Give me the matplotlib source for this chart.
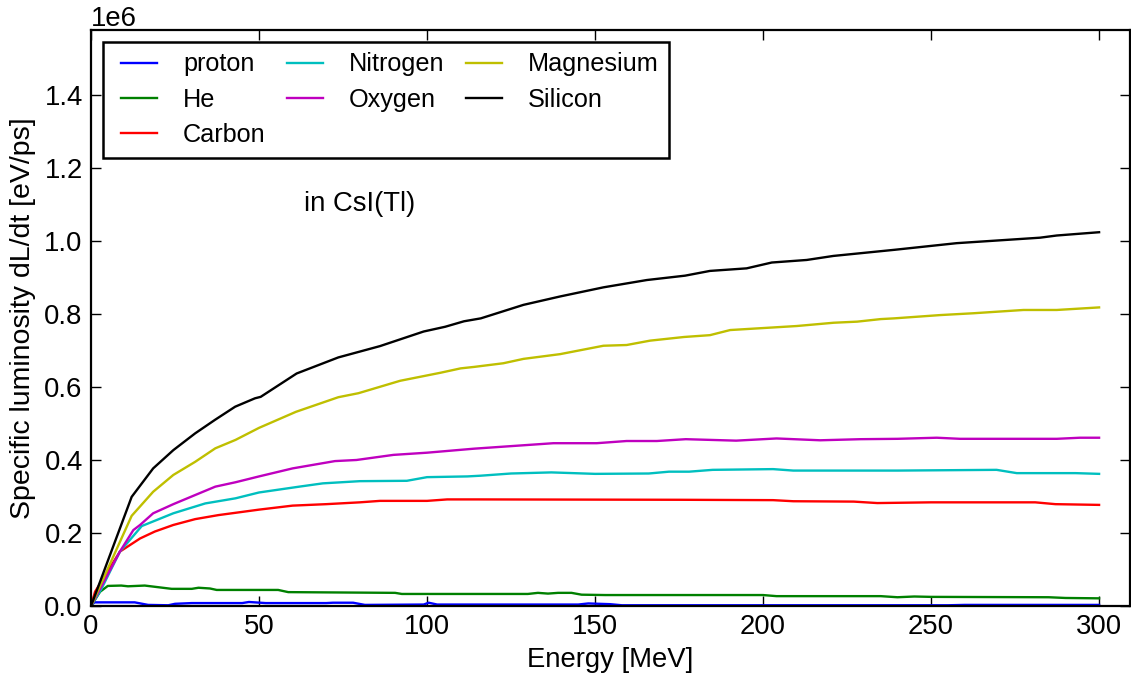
import numpy as np
import matplotlib
matplotlib.use("Agg")
import matplotlib.pyplot as plt
from matplotlib.lines import Line2D
from matplotlib.legend_handler import HandlerLine2D

plt.rcParams['font.family'] = ['Liberation Sans', 'DejaVu Sans']
plt.rcParams['mathtext.default'] = 'regular'

SCALE = 1e6  # values below are in units of 1e6 eV/ps

# Specific luminosity dL/dt in CsI(Tl) versus particle energy
proton_E = [0, 1, 13, 17, 23, 25, 30, 45, 47, 52, 70, 72, 78, 81.5, 99, 100.5,
            103, 145, 148, 154.5, 158, 255, 260, 300]
proton_L = [0, 0.010, 0.010, 0.003, 0.002, 0.006, 0.008, 0.008, 0.011, 0.008,
            0.008, 0.009, 0.009, 0.003, 0.004, 0.009, 0.004, 0.004, 0.007,
            0.005, 0.002, 0.002, 0.003, 0.003]

he_E = [0, 2.7, 5, 9, 11, 16, 24, 30, 32, 35.4, 37.4, 55.7, 58.7, 90.5, 92.5,
        130, 133, 136, 139, 143, 146, 153, 200, 204, 235, 240, 245, 250, 285,
        290, 300]
he_L = [0, 0.039, 0.055, 0.056, 0.054, 0.056, 0.047, 0.047, 0.050, 0.048,
        0.044, 0.044, 0.038, 0.036, 0.033, 0.033, 0.036, 0.034, 0.036, 0.036,
        0.031, 0.030, 0.030, 0.027, 0.027, 0.024, 0.026, 0.025, 0.024, 0.022,
        0.021]

carbon_E = [0, 1.2, 8.6, 14.6, 19, 24.5, 31, 37.9, 50, 60, 70, 80, 86, 100,
            106, 115, 175, 203, 209, 227, 234, 250, 281, 287, 300]
carbon_L = [0, 0.039, 0.149, 0.185, 0.204, 0.222, 0.238, 0.249, 0.264, 0.275,
            0.279, 0.284, 0.288, 0.288, 0.292, 0.292, 0.291, 0.290, 0.287,
            0.286, 0.282, 0.284, 0.284, 0.279, 0.277]

nitrogen_E = [0, 3, 8.6, 15.1, 24.5, 34, 43, 50, 62, 69, 80, 94, 100, 106, 112,
              116, 125, 137, 150, 166, 172, 178, 185, 203, 209, 240, 269.5,
              275.5, 293, 300]
nitrogen_L = [0, 0.045, 0.149, 0.219, 0.254, 0.281, 0.295, 0.311, 0.327, 0.336,
              0.342, 0.343, 0.353, 0.354, 0.355, 0.357, 0.363, 0.366, 0.362,
              0.363, 0.368, 0.368, 0.373, 0.375, 0.371, 0.371, 0.373, 0.364,
              0.364, 0.362]

oxygen_E = [0, 8.6, 12.6, 14.6, 18.5, 24.5, 31, 37, 43, 50, 60, 72.6, 79, 90,
            100, 114, 137.6, 150.5, 159.4, 168.4, 177, 192, 204, 217, 229, 240,
            251.7, 258.6, 287.4, 294.3, 300]
oxygen_L = [0, 0.149, 0.208, 0.222, 0.254, 0.279, 0.304, 0.327, 0.339, 0.355,
            0.377, 0.397, 0.400, 0.414, 0.420, 0.431, 0.446, 0.446, 0.452,
            0.452, 0.457, 0.453, 0.459, 0.454, 0.457, 0.458, 0.461, 0.458,
            0.458, 0.461, 0.461]

magnesium_E = [0, 12.1, 18.5, 24.5, 31, 37, 43, 50, 61, 73.6, 79.6, 92, 104,
               110, 114, 122.7, 128.7, 139.6, 152.5, 159.4, 166.4, 176.5, 184.2,
               190.2, 210, 221, 228, 235, 239, 252.7, 262.6, 277.5, 287.4, 300]
magnesium_L = [0, 0.247, 0.313, 0.359, 0.395, 0.432, 0.455, 0.488, 0.532,
               0.572, 0.583, 0.617, 0.639, 0.651, 0.655, 0.665, 0.677, 0.690,
               0.713, 0.715, 0.727, 0.737, 0.742, 0.756, 0.767, 0.776, 0.779,
               0.786, 0.788, 0.797, 0.802, 0.811, 0.811, 0.818]

silicon_E = [0, 12.1, 18.5, 24.5, 31, 36.9, 42.9, 48.8, 50.5, 61.2, 73.6, 86,
             99, 105.4, 111, 116, 128.7, 139.6, 152.5, 165.4, 176.8, 184.2,
             195.1, 202.6, 213, 220.9, 239.3, 257.6, 282.4, 287.4, 300]
silicon_L = [0, 0.299, 0.377, 0.427, 0.473, 0.510, 0.546, 0.569, 0.573, 0.637,
             0.681, 0.712, 0.752, 0.765, 0.780, 0.788, 0.825, 0.848, 0.873,
             0.893, 0.905, 0.918, 0.925, 0.941, 0.948, 0.959, 0.976, 0.994,
             1.009, 1.015, 1.024]

labels = ['proton', 'He', 'Carbon', 'Nitrogen', 'Oxygen', 'Magnesium', 'Silicon']
colors = ['b', 'g', 'r', 'c', 'm', 'y', 'k']
xticks = [0, 50, 100, 150, 200, 250, 300]
yticks = [0.0, 0.2, 0.4, 0.6, 0.8, 1.0, 1.2, 1.4]

series = [(proton_E, proton_L), (he_E, he_L), (carbon_E, carbon_L),
          (nitrogen_E, nitrogen_L), (oxygen_E, oxygen_L),
          (magnesium_E, magnesium_L), (silicon_E, silicon_L)]

W, H = 1131, 678
fig = plt.figure(figsize=(W / 100, H / 100), dpi=100)
ax = fig.add_axes([91 / W, 1 - 606 / H, (1130 - 91) / W, (606 - 30) / H])

color_map = {'b': (0, 0, 1), 'g': (0, 0.5, 0), 'r': (1, 0, 0),
             'c': (0, 0.75, 0.75), 'm': (0.75, 0, 0.75),
             'y': (0.75, 0.75, 0), 'k': (0, 0, 0)}

for (E, L), lab, c in zip(series, labels, colors):
    ax.plot(E, np.array(L) * SCALE, color=color_map[c], lw=1.7, label=lab)

ax.set_xlim(0, 309.2)
ax.set_ylim(0, 1.578e6)
ax.set_xticks(xticks)
ax.set_yticks(np.array(yticks) * SCALE)
ax.ticklabel_format(axis='y', style='sci', scilimits=(0, 0), useMathText=False)

fs = 19.8
ax.tick_params(direction='in', top=True, right=True, length=7, width=1,
               labelsize=fs, pad=6)
for s in ax.spines.values():
    s.set_linewidth(1.6)
ax.yaxis.get_offset_text().set_fontsize(fs)

ax.set_xlabel('Energy [MeV]', fontsize=fs)
ax.set_ylabel('Specific luminosity dL/dt [eV/ps]', fontsize=20.5)
ax.xaxis.set_label_coords(0.5, -0.071)
ax.yaxis.set_label_coords(-0.053, 0.5)

ax.text(63.5, 1.1e6, 'in CsI(Tl)', fontsize=fs, ha='left', va='center')

leg = ax.legend(loc='upper left', ncol=3, fontsize=18.2, frameon=True,
                fancybox=False, framealpha=1.0, handlelength=1.72,
                handletextpad=1.03, columnspacing=0.55, labelspacing=0.45,
                borderpad=0.42, borderaxespad=0.47,
                handler_map={Line2D: HandlerLine2D(xpad=0.3)})
leg.get_frame().set_edgecolor('black')
leg.get_frame().set_linewidth(1.8)

fig.savefig('out.png', dpi=100)
